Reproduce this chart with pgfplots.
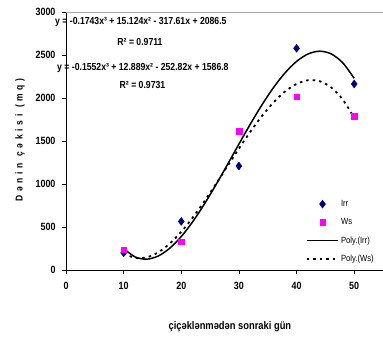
\documentclass[border=0pt]{standalone}
\usepackage{fontspec}
\setmainfont{Liberation Sans}[FakeStretch=0.85]
\usepackage{pgfplots}
\pgfplotsset{compat=1.18}
\definecolor{irr}{RGB}{0,0,128}
\definecolor{ws}{RGB}{255,0,255}
\pgfplotsset{
  markleg/.style={legend image code/.code={\draw[mark repeat=2,mark phase=2,##1] plot coordinates {(0cm,0cm) (0.55cm,0cm) (1.1cm,0cm)};}},
  lineleg/.style={legend image code/.code={\draw[##1] (0cm,0cm) -- (1.1cm,0cm);}},
}
\begin{document}
\begin{tikzpicture}
\begin{axis}[
  scale only axis, width=317pt, height=258pt,
  xmin=0, xmax=55, ymin=0, ymax=3000,
  axis lines=left,
  axis line style={-, black, line width=1pt},
  xtick={0,10,20,30,40,50}, ytick={0,500,1000,1500,2000,2500,3000},
  tick align=outside, major tick length=4pt,
  tick style={black, line width=0.8pt},
  /pgf/number format/assume math mode=true,
  /pgf/number format/1000 sep={},
  ticklabel style={font=\fontsize{10.5}{12}\selectfont\bfseries},
  xticklabel style={yshift=-5pt},
  yticklabel style={xshift=-3pt},
  xlabel={çiçəklənmədən sonraki gün},
  xlabel style={at={(axis description cs:0.517,-0.221)}, anchor=center, font=\fontsize{11}{13}\selectfont\bfseries},
  ylabel={\addfontfeature{LetterSpace=38}Dənin çəkisi (mq)},
  ylabel style={at={(axis description cs:-0.145,0.504)}, anchor=center, font=\fontsize{10}{12}\selectfont\bfseries},
  clip=false,
  legend style={draw=none, fill=none, at={(axis cs:41.6,837)}, anchor=north west,
    font=\fontsize{9}{10}\selectfont, row sep=6.5pt, inner sep=0pt},
  legend cell align=left,
]
\coordinate (bl) at (rel axis cs:0,0);
\coordinate (tr) at (rel axis cs:1,1);
\draw[gray!70, line width=0.6pt] (rel axis cs:0,1) -- (rel axis cs:1,1);

\addplot[only marks, mark=diamond*, mark size=4pt, color=irr, markleg]
  coordinates {(10,200) (20,565) (30,1209) (40,2578) (50,2163)};
\addlegendentry{Irr}
\addplot[only marks, mark=square*, mark size=2.8pt, color=ws, markleg]
  coordinates {(10,235) (20,330) (30,1616) (40,2015) (50,1791)};
\addlegendentry{Ws}

\addplot[black, line width=1.5pt, smooth, no marks, lineleg]
  coordinates {(10,248.5) (12,151.9) (14,126.0) (16,162.6) (18,253.2) (20,389.5)
   (22,563.2) (24,765.8) (26,989.0) (28,1224.4) (30,1463.7) (32,1698.5) (34,1920.4)
   (36,2121.1) (38,2292.2) (40,2425.3) (42,2512.1) (44,2544.2) (46,2513.2) (48,2410.7) (50,2228.5)};
\addlegendentry{Poly.(Irr)}
\addplot[black, line width=1.8pt, smooth, no marks, dash pattern=on 2.5pt off 4pt, lineleg]
  coordinates {(10,192.3) (12,140.8) (14,147.7) (16,205.6) (18,307.0) (20,444.4)
   (22,610.5) (24,797.7) (26,998.6) (28,1205.9) (30,1411.9) (32,1609.3) (34,1790.6)
   (36,1948.4) (38,2075.2) (40,2163.6) (42,2206.1) (44,2195.3) (46,2123.7) (48,1983.8) (50,1768.3)};
\addlegendentry{Poly.(Ws)}

\node[anchor=west, font=\fontsize{10.2}{12}\selectfont\bfseries, inner sep=0pt] at (axis cs:-1.91,2884) {y = -0.1743x³ + 15.124x² - 317.61x + 2086.5};
\node[anchor=center, font=\fontsize{10.2}{12}\selectfont\bfseries, inner sep=0pt] at (axis cs:12.84,2651) {R² = 0.9711};
\node[anchor=west, font=\fontsize{10.2}{12}\selectfont\bfseries, inner sep=0pt] at (axis cs:-1.56,2349) {y = -0.1552x³ + 12.889x² - 252.82x + 1586.8};
\node[anchor=center, font=\fontsize{10.2}{12}\selectfont\bfseries, inner sep=0pt] at (axis cs:13.27,2151) {R² = 0.9731};
\end{axis}
\pgfresetboundingbox
\path[use as bounding box] ([shift={(-66pt,-74pt)}]bl) rectangle ([shift={(0pt,12pt)}]tr);
\end{tikzpicture}
\end{document}
